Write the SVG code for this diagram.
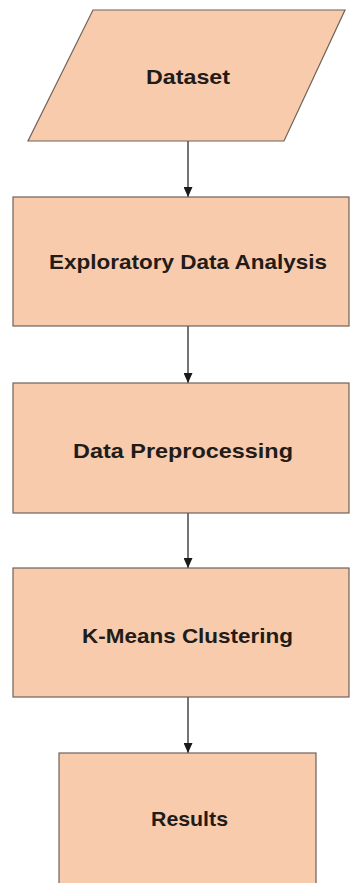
<svg xmlns="http://www.w3.org/2000/svg" width="351" height="883" viewBox="0 0 351 883">
  <style>
    .shape { fill: #F8CBAD; stroke: #6f625a; stroke-width: 1.2; }
    .label { font-family: "Liberation Sans", Arial, sans-serif; font-weight: bold; font-size: 20.5px; fill: #221c18; }
    .conn { stroke: #2a2a2a; stroke-width: 1.3; fill: none; marker-end: url(#arrow); }
  </style>
  <defs>
    <marker id="arrow" markerWidth="10" markerHeight="9" refX="10" refY="4.5" orient="auto" markerUnits="userSpaceOnUse">
      <path d="M0,0 L10,4.5 L0,9 Z" fill="#1a1a1a"/>
    </marker>
  </defs>
  <rect x="0" y="0" width="351" height="883" fill="#ffffff"/>
  <g id="connectors">
    <line class="conn" x1="188" y1="141" x2="188" y2="197"/>
    <line class="conn" x1="188" y1="326" x2="188" y2="383"/>
    <line class="conn" x1="188" y1="513" x2="188" y2="568"/>
    <line class="conn" x1="188" y1="697" x2="188" y2="753"/>
  </g>
  <g id="dataset">
    <polygon class="shape" points="93,10 345,10 284,141 28,141"/>
    <text class="label" x="146" y="84" textLength="84" lengthAdjust="spacingAndGlyphs">Dataset</text>
  </g>
  <g id="eda">
    <rect class="shape" x="13" y="197" width="336" height="129"/>
    <text class="label" x="49" y="269" textLength="278" lengthAdjust="spacingAndGlyphs">Exploratory Data Analysis</text>
  </g>
  <g id="preprocessing">
    <rect class="shape" x="13" y="383" width="336" height="130"/>
    <text class="label" x="73" y="458" textLength="220" lengthAdjust="spacingAndGlyphs">Data Preprocessing</text>
  </g>
  <g id="kmeans">
    <rect class="shape" x="13" y="568" width="336" height="129"/>
    <text class="label" x="82" y="643" textLength="211" lengthAdjust="spacingAndGlyphs">K-Means Clustering</text>
  </g>
  <g id="results">
    <rect class="shape" x="59" y="753" width="257" height="140"/>
    <text class="label" x="151" y="826" textLength="77" lengthAdjust="spacingAndGlyphs">Results</text>
  </g>
</svg>
